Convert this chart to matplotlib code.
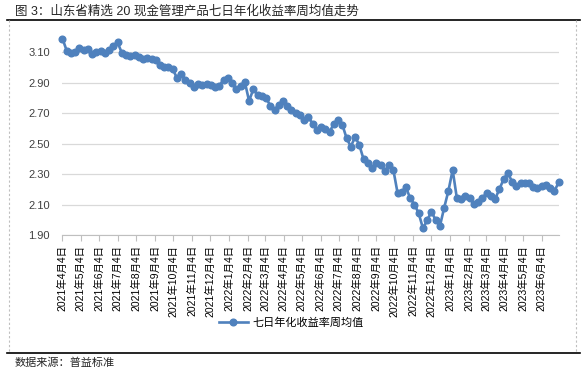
import numpy as np
import pandas as pd
import matplotlib
matplotlib.use("Agg")
import matplotlib.pyplot as plt
from matplotlib.lines import Line2D

plt.rcParams['font.family'] = ['Liberation Sans', 'Noto Sans CJK SC']

title = "图 3：山东省精选 20 现金管理产品七日年化收益率周均值走势"
source = "数据来源：普益标准"
series_name = "七日年化收益率周均值"

# weekly averages, first week 2021-04-04
start = "2021-04-04"
values = [
    3.19, 3.11, 3.095, 3.10, 3.125, 3.115, 3.12, 3.087, 3.104, 3.108,
    3.098, 3.115, 3.14, 3.165, 3.095, 3.085, 3.078, 3.085, 3.07, 3.055,
    3.06, 3.055, 3.05, 3.017, 3.006, 3.00, 2.99, 2.93, 2.96, 2.92,
    2.90, 2.875, 2.89, 2.888, 2.89, 2.888, 2.87, 2.88, 2.92, 2.933,
    2.90, 2.857, 2.88, 2.905, 2.78, 2.857, 2.82, 2.81, 2.80, 2.75,
    2.72, 2.755, 2.78, 2.75, 2.72, 2.70, 2.685, 2.655, 2.673, 2.63,
    2.59, 2.607, 2.598, 2.579, 2.63, 2.655, 2.623, 2.535, 2.48, 2.546,
    2.49, 2.397, 2.37, 2.342, 2.375, 2.36, 2.32, 2.36, 2.33, 2.178,
    2.185, 2.213, 2.14, 2.10, 2.042, 1.943, 1.998, 2.053, 1.998, 1.959,
    2.079, 2.19, 2.327, 2.14, 2.134, 2.156, 2.14, 2.103, 2.119, 2.14,
    2.178, 2.156, 2.136, 2.20, 2.265, 2.309, 2.25, 2.222, 2.239, 2.239,
    2.243, 2.213, 2.206, 2.224, 2.228, 2.206, 2.19, 2.245,
]
dates = pd.date_range(start, periods=len(values), freq="7D")

# month ticks on the 4th
tick_dates = pd.date_range("2021-04-01", "2023-06-01", freq="MS") + pd.Timedelta(days=3)
tick_labels = [f"{d.year}年{d.month}月{d.day}日" for d in tick_dates]
y_ticks = [1.90, 2.10, 2.30, 2.50, 2.70, 2.90, 3.10]

blue = "#4F81BD"
W, H = 587, 371

fig = plt.figure(figsize=(W / 100, H / 100), dpi=100)
ax = fig.add_axes([62.3 / W, 1 - 235 / H, (559.3 - 62.3) / W, (235 - 37) / H])

ax.plot(dates, values, color=blue, lw=1.9, marker="o", ms=4.8, label=series_name, clip_on=False)

ax.set_xlim(dates[0] - pd.Timedelta(hours=6), dates[-1] + pd.Timedelta(days=1))
ax.set_ylim(1.90, 3.20)
ax.set_yticks(y_ticks)
ax.set_yticklabels([f"{v:.2f}" for v in y_ticks], fontsize=8, color="#404040")
ax.set_xticks(tick_dates)
ax.set_xticklabels(tick_labels, rotation=90, fontsize=7.5, va="top", ha="center")
ax.tick_params(axis="y", length=0, pad=9)
ax.tick_params(axis="x", length=4, color="#bfbfbf", pad=3)
ax.grid(axis="y", color="#d9d9d9", lw=0.9)
ax.set_axisbelow(True)
for s in ["left", "right", "top"]:
    ax.spines[s].set_visible(False)
ax.spines["bottom"].set_color("#bfbfbf")

leg = fig.legend(handles=[Line2D([], [], color=blue, lw=1.9, marker="o", ms=4.8)],
                 labels=[series_name], loc="center", bbox_to_anchor=(291 / W, 1 - 323 / H),
                 frameon=False, fontsize=8, handlelength=2.6, handletextpad=0.4)

fig.text(15 / W, 1 - 11 / H, title, fontsize=9, va="center", ha="left", color="#262626")
fig.text(15 / W, 1 - 363 / H, source, fontsize=8, va="center", ha="left", color="#262626")
fig.add_artist(Line2D([7 / W, 580 / W], [1 - 19.5 / H] * 2, color="black", lw=1.2))
fig.add_artist(Line2D([7 / W, 580 / W], [1 - 352.7 / H] * 2, color="black", lw=1.2))
for x in [8.5, 576]:
    fig.add_artist(Line2D([x / W] * 2, [1 - 20 / H, 1 - 352 / H], color="#bfbfbf", lw=0.8, ls=(0, (2, 2))))

fig.savefig("out.png", dpi=100)
